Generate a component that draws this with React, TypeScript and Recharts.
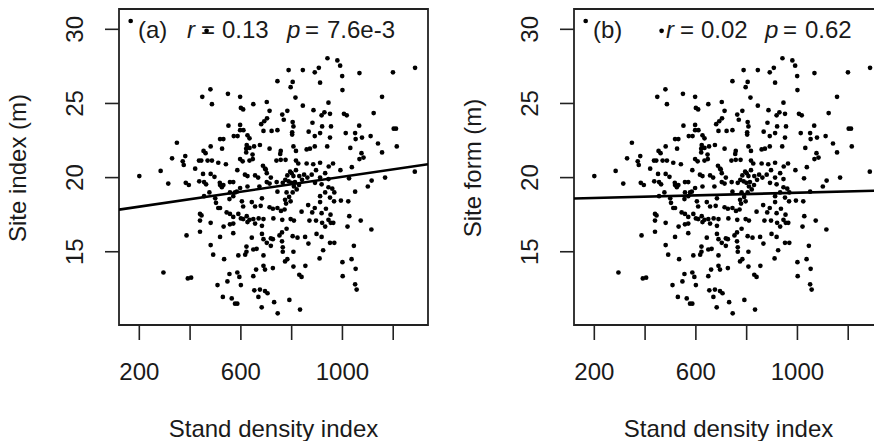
// Two-panel scatter: site index / site form against stand density index,
// R base-graphics look (boxed plot, vertical y tick labels, pch 20 dots).

import {
  Customized,
  ReferenceArea,
  ReferenceLine,
  Scatter,
  ScatterChart,
  XAxis,
  YAxis,
} from 'recharts'

const FONT = '"Liberation Sans", Arial, sans-serif'
const INK = '#1a1a1a'

// [stand density index, site index (m)]
const plots: [number, number][] = [
  [166, 30.56], [465, 29.9], [941, 28.05], [980, 27.9], [991, 27.55], [1286, 27.4],
  [788, 27.25], [844, 27.25], [891, 27.1], [907, 27.4], [1067, 27.05], [1199, 27.1],
  [999, 26.85], [744, 26.5], [804, 26.45], [796, 26.1], [912, 26.4], [1000, 25.9],
  [480, 25.95], [549, 25.65], [448, 25.45], [597, 25.45], [815, 25.4], [1156, 25.45],
  [486, 24.95], [649, 24.95], [702, 25.1], [844, 24.85], [945, 25.05], [600, 24.7],
  [609, 24.6], [783, 24.5], [713, 24.5], [886, 24.55], [929, 24.4], [1006, 24.3],
  [1017, 24.2], [1123, 24.35], [918, 24.2], [951, 24.3], [763, 24.25], [703, 24.0],
  [692, 23.8], [680, 23.6], [769, 23.9], [804, 23.75], [807, 23.45], [882, 23.7],
  [920, 23.45], [955, 23.45], [1066, 23.5], [1202, 23.3], [1211, 23.3], [551, 23.5],
  [597, 23.55], [597, 23.2], [610, 23.2], [689, 23.15], [721, 23.15], [744, 23.2],
  [802, 23.05], [802, 22.9], [867, 23.1], [891, 22.8], [912, 23.0], [1013, 23.0],
  [1050, 23.0], [1052, 22.6], [1077, 22.7], [1111, 22.8], [951, 22.7], [587, 22.8],
  [572, 22.8], [531, 22.6], [518, 22.6], [626, 22.85], [634, 22.65], [348, 22.35],
  [481, 22.1], [453, 21.8], [461, 21.65], [526, 21.95], [623, 22.2], [621, 21.95],
  [634, 22.0], [652, 22.1], [621, 21.7], [646, 21.55], [675, 22.2], [713, 21.95],
  [757, 21.8], [755, 21.6], [807, 22.1], [817, 21.8], [859, 21.9], [872, 21.95],
  [891, 22.1], [940, 22.1], [1031, 22.0], [1140, 22.3], [1156, 21.7], [1214, 22.1],
  [1075, 21.65], [329, 21.3], [381, 21.45], [435, 21.15], [444, 21.15], [469, 21.15],
  [486, 21.15], [511, 21.0], [541, 20.9], [597, 21.25], [607, 21.1], [634, 21.15],
  [647, 21.25], [687, 20.8], [695, 20.6], [740, 21.15], [757, 21.2], [776, 21.2],
  [817, 21.15], [826, 20.95], [859, 20.95], [885, 20.9], [912, 21.0], [946, 20.75],
  [963, 20.95], [1067, 21.25], [1083, 21.35], [1037, 20.7], [371, 21.1], [375, 20.85],
  [420, 20.6], [200, 20.1], [284, 20.45], [314, 19.6], [383, 19.65], [395, 19.5],
  [481, 20.25], [455, 19.7], [463, 19.55], [496, 20.05], [517, 19.65], [525, 19.35],
  [518, 19.5], [531, 19.5], [557, 19.7], [570, 19.7], [586, 20.5], [616, 20.2],
  [626, 20.1], [656, 20.15], [668, 20.0], [698, 20.55], [702, 20.3], [718, 20.0],
  [673, 19.4], [626, 19.4], [597, 19.3], [577, 19.0], [557, 19.0], [702, 19.7],
  [713, 19.6], [741, 19.7], [744, 19.05], [765, 19.65], [775, 19.85], [783, 20.15],
  [794, 20.4], [800, 20.3], [807, 20.1], [817, 20.5], [788, 19.75], [799, 19.65],
  [813, 19.7], [830, 20.1], [841, 19.85], [849, 20.2], [862, 20.0], [879, 20.2],
  [896, 20.5], [912, 20.0], [932, 20.3], [945, 19.9], [992, 20.5], [1026, 19.95],
  [1168, 20.0], [1285, 20.4], [1115, 19.8], [1100, 19.4], [809, 19.4], [820, 19.2],
  [804, 19.0], [780, 19.0], [829, 19.5], [892, 19.65], [918, 19.55], [945, 19.35],
  [960, 19.25], [968, 19.0], [1050, 19.05], [932, 19.0], [912, 18.75], [951, 18.65],
  [967, 18.4], [912, 18.35], [994, 18.45], [1023, 18.4], [476, 19.0], [499, 18.6],
  [455, 18.75], [502, 18.3], [511, 17.95], [518, 17.95], [555, 18.55], [570, 18.75],
  [584, 19.05], [604, 18.4], [609, 18.05], [643, 18.35], [656, 18.05], [678, 18.1],
  [683, 18.6], [713, 18.0], [726, 17.9], [744, 17.95], [758, 17.75], [772, 17.85],
  [774, 18.5], [778, 18.25], [790, 18.7], [796, 18.4], [839, 17.7], [865, 18.15],
  [881, 17.65], [891, 17.95], [918, 17.6], [935, 17.9], [953, 17.5], [439, 17.55],
  [445, 17.45], [544, 17.65], [557, 17.55], [570, 17.35], [590, 17.55], [600, 17.25],
  [609, 17.2], [623, 17.4], [626, 17.0], [634, 17.15], [649, 17.2], [656, 16.9],
  [670, 17.25], [683, 16.75], [689, 17.2], [728, 17.25], [763, 17.15], [796, 17.2],
  [809, 17.1], [570, 16.9], [557, 16.85], [439, 17.1], [481, 16.95], [870, 17.1],
  [896, 17.1], [920, 16.95], [945, 17.15], [954, 16.95], [964, 16.95], [932, 16.7],
  [1020, 16.7], [1072, 17.1], [1114, 16.5], [1027, 17.4], [439, 16.35], [518, 16.0],
  [532, 16.7], [570, 16.25], [643, 15.95], [683, 16.2], [689, 15.85], [718, 15.9],
  [702, 15.6], [718, 15.4], [726, 15.85], [752, 16.1], [762, 16.3], [780, 16.55],
  [762, 15.7], [765, 15.3], [804, 16.05], [823, 15.95], [853, 16.0], [898, 16.2],
  [918, 16.0], [951, 15.6], [968, 15.6], [924, 15.1], [866, 15.55], [807, 15.0],
  [765, 15.0], [783, 14.5], [774, 14.35], [481, 15.45], [491, 14.8], [590, 14.75],
  [617, 14.8], [622, 15.35], [649, 15.15], [662, 15.2], [622, 15.0], [689, 14.75],
  [534, 14.5], [910, 14.55], [807, 14.0], [854, 14.05], [1000, 14.3], [1036, 14.5],
  [1045, 15.4], [1052, 13.85], [295, 13.6], [391, 13.2], [404, 13.25], [555, 13.5],
  [586, 13.6], [594, 13.3], [649, 13.35], [660, 13.8], [689, 14.05], [695, 13.8],
  [726, 13.9], [830, 13.45], [839, 13.3], [1001, 13.35], [508, 12.75], [547, 13.0],
  [600, 12.75], [653, 12.4], [675, 12.45], [695, 12.35], [705, 12.2], [1050, 12.8],
  [1056, 12.45], [529, 11.95], [564, 11.85], [577, 11.5], [586, 11.5], [669, 11.95],
  [731, 11.6], [791, 11.75], [682, 11.25], [745, 10.85], [833, 11.1], [386, 16.1],
  [451, 20.25], [436, 19.75],
]

const xTicks = [200, 400, 600, 800, 1000, 1200]
const xTickLabels = [200, 600, 1000]
const yTicks = [15, 20, 25, 30]
const xDomain: [number, number] = [120, 1337]
const yDomain: [number, number] = [10.06, 31.37]

// fitted lines, end points at the plot edges
const fitIndex = [{ x: 120, y: 17.84 }, { x: 1337, y: 20.9 }]
const fitForm = [{ x: 120, y: 18.59 }, { x: 1337, y: 19.13 }]

const rows = plots.map(([x, y]) => ({ x, y }))

const Dot = (p: any) => <circle cx={p.cx} cy={p.cy} r={2.35} fill="#000" />

const YTick = (p: any) => (
  <text
    transform={`translate(${p.x},${p.y}) rotate(-90)`}
    textAnchor="middle"
    fontSize={24}
    fontFamily={FONT}
    fill={INK}
  >
    {p.payload.value}
  </text>
)

interface PanelProps {
  left: number
  tag: string
  yTitle: string
  r: string
  p: string
  fit: { x: number; y: number }[]
  // x positions of the "r = .." and "p = .." pieces inside the chart
  rx: number
  px: number
}

function Panel({ left, tag, yTitle, r, p, fit, rx, px }: PanelProps) {
  const overlay = () => (
    <g fontFamily={FONT} fill={INK} fontSize={24}>
      <text x={138} y={38}>{tag}</text>
      <text x={rx} y={38} fontStyle="italic">r</text>
      <text x={rx + 21} y={38} textAnchor="middle">=</text>
      <text x={rx + 35} y={38}>{r}</text>
      <text x={px} y={38} fontStyle="italic">p</text>
      <text x={px + 25} y={38} textAnchor="middle">=</text>
      <text x={px + 40} y={38}>{p}</text>
      <text transform="translate(26,168) rotate(-90)" textAnchor="middle">
        {yTitle}
      </text>
      <text x={273.5} y={437} textAnchor="middle">Stand density index</text>
    </g>
  )

  return (
    <div style={{ position: 'absolute', left, top: 0 }}>
      <ScatterChart
        width={440}
        height={441}
        margin={{ top: 9, right: 12, bottom: 0, left: 0 }}
      >
        <XAxis
          type="number"
          dataKey="x"
          domain={xDomain}
          ticks={xTicks}
          interval={0}
          allowDataOverflow
          tickFormatter={(v: number) => (xTickLabels.includes(v) ? String(v) : '')}
          axisLine={false}
          tickLine={{ stroke: '#222', strokeWidth: 1.6 }}
          tickSize={15}
          tickMargin={23}
          height={116}
          tick={{ fontSize: 24, fill: INK, fontFamily: FONT }}
        />
        <YAxis
          type="number"
          dataKey="y"
          domain={yDomain}
          ticks={yTicks}
          interval={0}
          allowDataOverflow
          axisLine={false}
          tickLine={{ stroke: '#222', strokeWidth: 1.6 }}
          tickSize={14}
          tickMargin={22}
          width={119}
          tick={<YTick />}
        />
        <ReferenceArea
          x1={xDomain[0]}
          x2={xDomain[1]}
          y1={yDomain[0]}
          y2={yDomain[1]}
          fill="none"
          stroke="#222"
          strokeWidth={1.8}
          ifOverflow="visible"
        />
        <Scatter data={rows} shape={Dot} isAnimationActive={false} />
        <ReferenceLine segment={fit} stroke="#000" strokeWidth={2.6} ifOverflow="hidden" />
        <Customized component={overlay} />
      </ScatterChart>
    </div>
  )
}

export default function App() {
  return (
    <div
      style={{
        position: 'fixed',
        left: 0,
        top: 0,
        width: 874,
        height: 441,
        overflow: 'hidden',
        background: '#fff',
      }}
    >
      <Panel
        left={0}
        tag="(a)"
        yTitle="Site index (m)"
        r="0.13"
        p="7.6e-3"
        fit={fitIndex}
        rx={187}
        px={287}
      />
      <Panel
        left={455}
        tag="(b)"
        yTitle="Site form (m)"
        r="0.02"
        p="0.62"
        fit={fitForm}
        rx={211}
        px={310}
      />
    </div>
  )
}
